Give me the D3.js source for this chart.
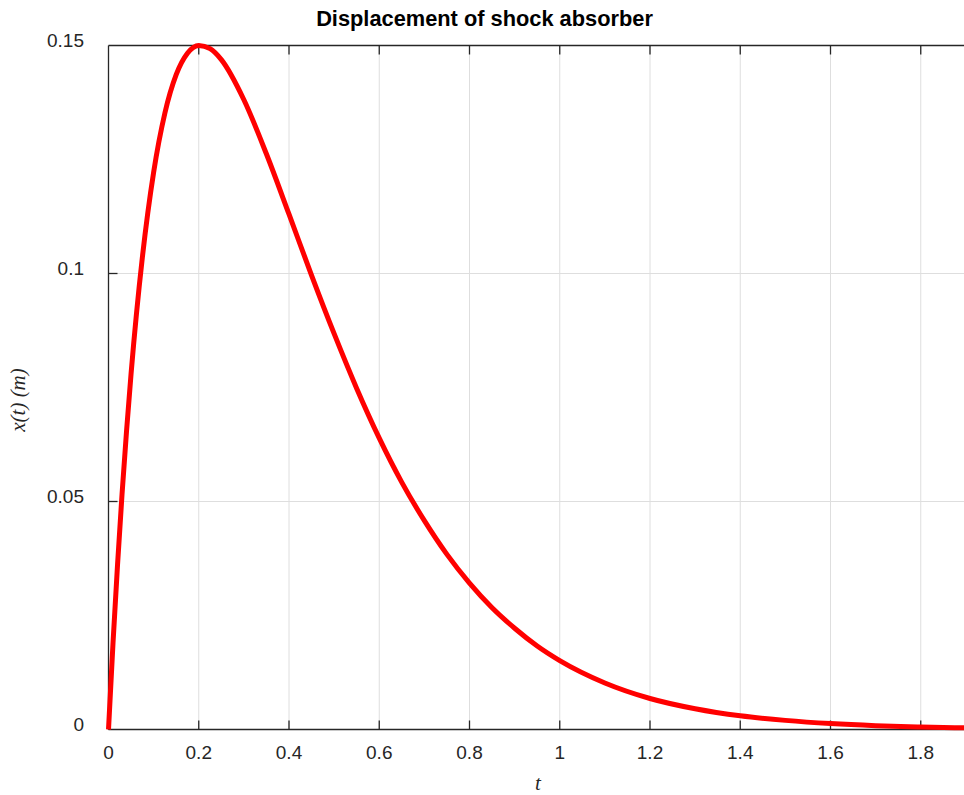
<!DOCTYPE html>
<html>
<head>
<meta charset="utf-8">
<script src="https://cdn.jsdelivr.net/npm/d3@7"></script>
<style>
  html, body { margin: 0; padding: 0; background: #fff; }
  svg { display: block; }
  .tick text { font-family: "Liberation Sans", Arial, Helvetica, sans-serif; font-size: 19px; fill: #262626; }
</style>
</head>
<body>
<svg id="chart" width="964" height="795"></svg>
<script>
  // data
  const tValues = [0, 0.01, 0.02, 0.03, 0.04, 0.05, 0.075, 0.1, 0.125, 0.15, 0.175, 0.2, 0.225, 0.25,
                   0.3, 0.35, 0.4, 0.45, 0.5, 0.55, 0.6, 0.65, 0.7, 0.75, 0.8, 0.85, 0.9, 0.95,
                   1.0, 1.1, 1.2, 1.3, 1.4, 1.5, 1.6, 1.7, 1.8, 1.9];
  const xValues = [0, 0.0190, 0.0361, 0.0516, 0.0655, 0.0780, 0.1035, 0.1222, 0.1352, 0.1436, 0.1483, 0.1500, 0.1493, 0.1469,
                   0.1381, 0.1262, 0.1130, 0.0996, 0.0868, 0.0748, 0.0639, 0.0542, 0.0458, 0.0384, 0.0321, 0.0267, 0.0222, 0.0183,
                   0.0151, 0.0102, 0.0068, 0.00455, 0.0030, 0.0020, 0.0013, 0.00084, 0.00055, 0.00036];
  const xTicks = [0, 0.2, 0.4, 0.6, 0.8, 1, 1.2, 1.4, 1.6, 1.8];
  const yTicks = [0, 0.05, 0.1, 0.15];
  const xTickLabels = ["0", "0.2", "0.4", "0.6", "0.8", "1", "1.2", "1.4", "1.6", "1.8"];
  const yTickLabels = ["0", "0.05", "0.1", "0.15"];

  const plotLeft = 108.5, plotTop = 45.5, plotBottom = 729.5;
  const axisColor = "#262626";

  const svg = d3.select("#chart");

  const x = d3.scaleLinear().domain([0, 1.9]).range([plotLeft, plotLeft + 1.9 * 451.25]);
  const y = d3.scaleLinear().domain([0, 0.15]).range([plotBottom, plotTop]);

  // grid
  const grid = svg.append("g").attr("stroke", "#dedede").attr("stroke-width", 1);
  grid.selectAll("line.gx").data(xTicks.slice(1)).join("line")
    .attr("x1", d => x(d)).attr("x2", d => x(d))
    .attr("y1", plotTop).attr("y2", plotBottom);
  grid.selectAll("line.gy").data(yTicks.slice(1, -1)).join("line")
    .attr("x1", plotLeft).attr("x2", x.range()[1])
    .attr("y1", d => y(d)).attr("y2", d => y(d));

  // axes, ticks pointing inward
  const styleAxis = g => {
    g.selectAll("path.domain").attr("stroke", axisColor).attr("stroke-width", 1.3);
    g.selectAll(".tick line").attr("stroke", axisColor).attr("stroke-width", 1.3);
  };

  svg.append("g")
    .attr("transform", `translate(0,${plotBottom})`)
    .call(d3.axisBottom(x).tickValues(xTicks).tickFormat((d, i) => xTickLabels[i])
      .tickSize(-9).tickSizeOuter(0).tickPadding(16).offset(0))
    .call(styleAxis);

  svg.append("g")
    .attr("transform", `translate(0,${plotTop})`)
    .call(d3.axisTop(x).tickValues(xTicks.slice(1)).tickFormat("")
      .tickSize(-9).tickSizeOuter(0).offset(0))
    .call(styleAxis);

  const yAxisG = svg.append("g")
    .attr("transform", `translate(${plotLeft},0)`)
    .call(d3.axisLeft(y).tickValues(yTicks).tickFormat((d, i) => yTickLabels[i])
      .tickSize(-9).tickSizeOuter(0).tickPadding(24.5).offset(0))
    .call(styleAxis);
  yAxisG.selectAll(".tick text").attr("dy", "0.1em");
  yAxisG.selectAll(".tick").filter(d => d === 0 || d === 0.15).select("line").remove();

  // curve
  const data = tValues.map((t, i) => ({ t: t, v: xValues[i] }));
  const line = d3.line().x(d => x(d.t)).y(d => y(d.v)).curve(d3.curveMonotoneX);
  svg.append("path")
    .datum(data)
    .attr("d", line)
    .attr("fill", "none")
    .attr("stroke", "#ff0000")
    .attr("stroke-width", 5)
    .attr("stroke-linejoin", "round");

  // title and labels
  svg.append("text")
    .attr("x", 484.5).attr("y", 26)
    .attr("text-anchor", "middle")
    .attr("font-family", "Liberation Sans, Arial, Helvetica, sans-serif")
    .attr("font-size", 21.8).attr("font-weight", "bold").attr("fill", "#000")
    .text("Displacement of shock absorber");

  svg.append("text")
    .attr("x", 538).attr("y", 790)
    .attr("text-anchor", "middle")
    .attr("font-family", "Liberation Serif, Times New Roman, serif")
    .attr("font-style", "italic").attr("font-size", 21).attr("fill", axisColor)
    .text("t");

  svg.append("text")
    .attr("transform", "translate(25,400) rotate(-90)")
    .attr("text-anchor", "middle")
    .attr("font-family", "Liberation Serif, Times New Roman, serif")
    .attr("font-style", "italic").attr("font-size", 21).attr("fill", axisColor)
    .text("x(t) (m)");
</script>
</body>
</html>
